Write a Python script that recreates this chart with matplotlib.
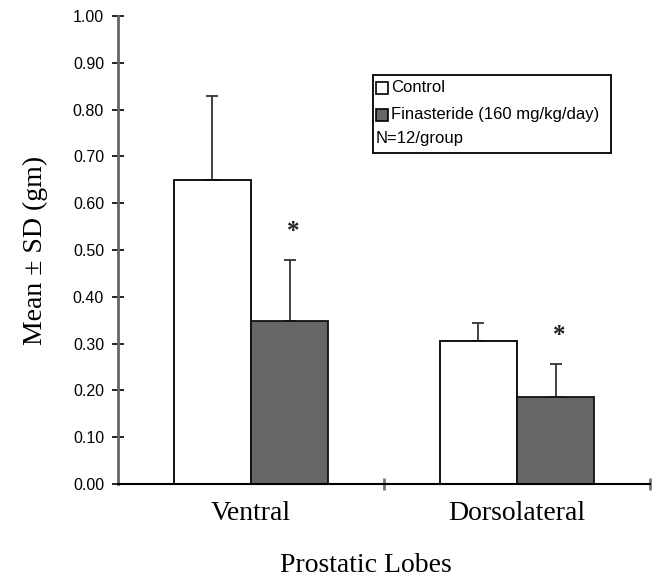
import matplotlib
matplotlib.use("Agg")
import matplotlib.pyplot as plt
from matplotlib.patches import Rectangle
import numpy as np

categories = ["Ventral", "Dorsolateral"]
control_mean = [0.65, 0.305]
control_sd = [0.18, 0.04]
finasteride_mean = [0.348, 0.186]
finasteride_sd = [0.13, 0.07]
sig_y = [0.54, 0.318]
yticks = [0.0, 0.1, 0.2, 0.3, 0.4, 0.5, 0.6, 0.7, 0.8, 0.9, 1.0]
legend_labels = ["Control", "Finasteride (160 mg/kg/day)", "N=12/group"]

serif = ["Liberation Serif", "DejaVu Serif"]
sans = ["Liberation Sans", "DejaVu Sans"]

fig = plt.figure(figsize=(6.6, 5.82), dpi=100)
ax = fig.add_axes([118/660, 1-484/582, (650-118)/660, (484-16)/582])

x = np.arange(len(categories))
w = 0.29
off = 0.145
ax.bar(x - off, control_mean, width=w, color="white", edgecolor="black", linewidth=1.3, zorder=2)
ax.bar(x + off, finasteride_mean, width=w, color="#666666", edgecolor="#111111", linewidth=1.3, zorder=2)
ax.errorbar(x - off, control_mean, yerr=[np.zeros(len(x)), control_sd], fmt="none",
            ecolor="#333333", elinewidth=1.3, capsize=4, capthick=1.3, zorder=1)
ax.errorbar(x + off, finasteride_mean, yerr=[np.zeros(len(x)), finasteride_sd], fmt="none",
            ecolor="#333333", elinewidth=1.3, capsize=4, capthick=1.3, zorder=1)
for xi, yi in zip(x + off, sig_y):
    ax.text(xi + 0.015, yi, "*", ha="center", va="center", fontsize=18, fontweight="bold",
            family=serif, color="#222222")

ax.set_xlim(-0.5, 1.5)
ax.set_ylim(0, 1.0)
ax.set_yticks(yticks)
ax.set_yticklabels([f"{t:.2f}" for t in yticks], family=sans, fontsize=11.5)
ax.tick_params(axis="y", direction="inout", length=8, width=1.2, pad=6)
ax.set_xticks(x)
ax.set_xticklabels(categories, family=serif, fontsize=20)
ax.tick_params(axis="x", length=0, pad=12)
ax.set_xticks([0.5, 1.5], minor=True)
ax.tick_params(axis="x", which="minor", direction="inout", length=8, width=2, color="#777777")

for s in ["top", "right"]:
    ax.spines[s].set_visible(False)
ax.spines["left"].set_color("#666666")
ax.spines["left"].set_linewidth(2)
ax.spines["bottom"].set_color("black")
ax.spines["bottom"].set_linewidth(1.5)

ax.set_ylabel("Mean ± SD (gm)", family=serif, fontsize=20, labelpad=18)
fig.text((118+650)/2/660 - 0.027, 1-565/582, "Prostatic Lobes", family=serif, fontsize=20,
         ha="center", va="center")

# legend box
def fx(px): return px/660
def fy(py): return 1-py/582
fig.patches.append(Rectangle((fx(373), fy(153)), fx(611)-fx(373), fy(75)-fy(153),
                             transform=fig.transFigure, facecolor="white", edgecolor="black", linewidth=1.3))
fig.patches.append(Rectangle((fx(376), fy(94)), fx(388)-fx(376), fy(82)-fy(94),
                             transform=fig.transFigure, facecolor="white", edgecolor="black", linewidth=1.2))
fig.patches.append(Rectangle((fx(376), fy(121)), fx(388)-fx(376), fy(109)-fy(121),
                             transform=fig.transFigure, facecolor="#666666", edgecolor="black", linewidth=1.2))
fig.text(fx(391), fy(88), legend_labels[0], family=sans, fontsize=12, va="center", ha="left")
fig.text(fx(391), fy(115), legend_labels[1], family=sans, fontsize=12, va="center", ha="left")
fig.text(fx(376), fy(139), legend_labels[2], family=sans, fontsize=12, va="center", ha="left")

fig.savefig("out.png", dpi=100)
